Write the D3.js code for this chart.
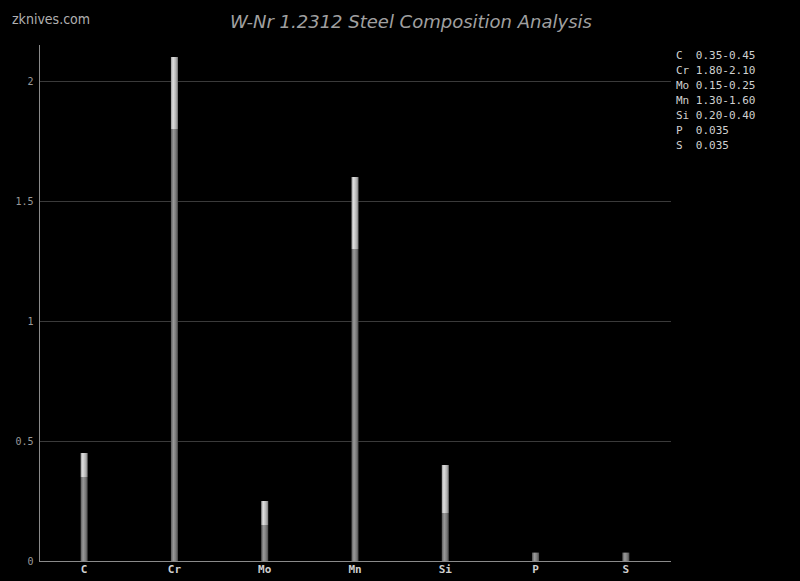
<!DOCTYPE html>
<html><head><meta charset="utf-8">
<script src="https://cdn.jsdelivr.net/npm/d3@7"></script>
<style>
html,body{margin:0;padding:0;background:#000;}
svg{display:block;}
</style></head>
<body>
<script>
const categories = ["C","Cr","Mo","Mn","Si","P","S"];
const minValues = [0.35,1.80,0.15,1.30,0.20,0.035,0.035];
const maxValues = [0.45,2.10,0.25,1.60,0.40,0.035,0.035];
const legendLabels = ["C  0.35-0.45","Cr 1.80-2.10","Mo 0.15-0.25","Mn 1.30-1.60","Si 0.20-0.40","P  0.035","S  0.035"];
const yTicks = [0,0.5,1,1.5,2];
const titleText = "W-Nr 1.2312 Steel Composition Analysis";
const watermark = "zknives.com";

const W=800,H=581;
const svg=d3.select("body").append("svg").attr("width",W).attr("height",H).style("background","#000");
const defs=svg.append("defs");
function grad(id,stops){
  const g=defs.append("linearGradient").attr("id",id).attr("x1","0%").attr("x2","100%").attr("y1","0%").attr("y2","0%");
  stops.forEach(s=>g.append("stop").attr("offset",s[0]).attr("stop-color",s[1]));
}
grad("gLow",[["0%","#5a5a5a"],["35%","#9a9a9a"],["70%","#7a7a7a"],["100%","#4a4a4a"]]);
grad("gHigh",[["0%","#9a9a9a"],["30%","#e0e0e0"],["70%","#b4b4b4"],["100%","#7a7a7a"]]);

const x=d3.scaleBand().domain(categories).range([39,671]);
const y=d3.scaleLinear().domain([0,2.15]).range([561,45]);

// grid
svg.append("g").selectAll("line").data(yTicks.filter(d=>d>0)).join("line")
  .attr("x1",39).attr("x2",671).attr("y1",d=>Math.round(y(d))+0.5).attr("y2",d=>Math.round(y(d))+0.5)
  .attr("stroke","#3a3a3a").attr("stroke-width",1);

// axes
const yAxis=svg.append("g").attr("transform","translate(39.5,0)")
  .call(d3.axisLeft(y).tickValues(yTicks).tickSize(0).tickPadding(6).tickFormat(d3.format("")));
yAxis.select(".domain").attr("stroke","#8a8a8a").attr("d","M0,45V561");
yAxis.selectAll("text").attr("fill","#9a9a9a").style("font-family","'DejaVu Sans Mono',monospace").style("font-size","10px");

const xAxis=svg.append("g").attr("transform","translate(0,561.5)")
  .call(d3.axisBottom(x).tickSize(0).tickPadding(4));
xAxis.select(".domain").attr("stroke","#8a8a8a").attr("d","M39,0H671");
xAxis.selectAll("text").attr("fill","#cfcfcf").style("font-family","'DejaVu Sans Mono',monospace").style("font-size","11px").style("font-weight","bold");

// bars
const bw=7;
const data=categories.map((c,i)=>({c,min:minValues[i],max:maxValues[i]}));
const bars=svg.append("g");
bars.selectAll("rect.low").data(data).join("rect").attr("class","low")
  .attr("x",d=>x(d.c)+x.bandwidth()/2-bw/2).attr("width",bw)
  .attr("y",d=>y(d.min)).attr("height",d=>y(0)-y(d.min))
  .attr("fill","url(#gLow)");
bars.selectAll("rect.high").data(data.filter(d=>d.max>d.min)).join("rect").attr("class","high")
  .attr("x",d=>x(d.c)+x.bandwidth()/2-bw/2).attr("width",bw)
  .attr("y",d=>y(d.max)).attr("height",d=>y(d.min)-y(d.max))
  .attr("fill","url(#gHigh)");

// title
svg.append("text").attr("x",411).attr("y",28).attr("text-anchor","middle")
  .attr("fill","#a0a0a0").style("font-family","'DejaVu Sans',sans-serif").style("font-style","italic").style("font-size","18px")
  .text(titleText);
svg.append("text").attr("x",12).attr("y",24)
  .attr("fill","#b0b0b0").style("font-family","'DejaVu Sans Condensed','DejaVu Sans',sans-serif").style("font-stretch","condensed").style("font-size","14px")
  .text(watermark);

// legend
svg.append("g").selectAll("text").data(legendLabels).join("text")
  .attr("x",676).attr("y",(d,i)=>59+i*15)
  .attr("fill","#d0d0d0").style("font-family","'DejaVu Sans Mono',monospace").style("font-size","11px")
  .style("white-space","pre").attr("xml:space","preserve")
  .text(d=>d);
</script>
</body></html>
